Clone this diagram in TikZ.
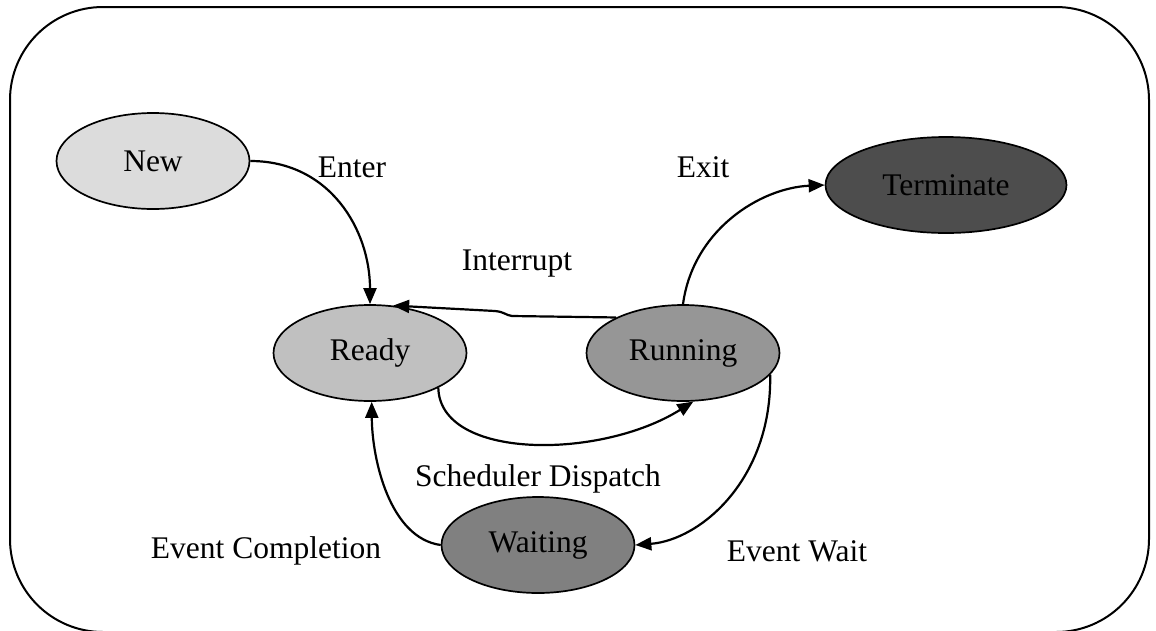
\documentclass[tikz,border=0pt]{standalone}
\usepackage{fontspec}
\setmainfont{Liberation Serif}
\usetikzlibrary{shapes.geometric,arrows.meta}
\begin{document}
\begin{tikzpicture}[x=1pt,y=-1pt,
  state/.style={ellipse,draw=black,line width=1.7pt,minimum width=193pt,minimum height=96pt,inner sep=0pt,font=\fontsize{31.5}{36}\selectfont},
  lbl/.style={font=\fontsize{31.5}{36}\selectfont,inner sep=0pt},
  conn/.style={line width=2.2pt,-{Triangle[length=16pt,width=13pt]}}]
\useasboundingbox (0,0) rectangle (1156,630);
\draw[line width=2pt,rounded corners=93pt] (10,7) rectangle (1149,632);
\node[state,fill={rgb,255:red,220;green,220;blue,220}] (new) at (153,161) {New};
\node[state,fill={rgb,255:red,192;green,192;blue,192}] (ready) at (370,353) {Ready};
\node[state,fill={rgb,255:red,150;green,150;blue,150}] (running) at (683,353) {Running};
\node[state,fill={rgb,255:red,128;green,128;blue,128}] (waiting) at (538,545) {\raisebox{4pt}{Waiting}};
\node[state,fill={rgb,255:red,77;green,77;blue,77},minimum width=241pt] (term) at (946,185) {Terminate};
\node[lbl] (lenter) at (352,167) {Enter};
\node[lbl] (lexit) at (703,167) {Exit};
\node[lbl] (lint) at (517,264) {Interrupt};
\node[lbl] (lsched) at (538,479) {Scheduler Dispatch};
\node[lbl] (lcomp) at (266,551) {Event Completion};
\node[lbl] (lwait) at (797,551) {Event Wait};
\draw[conn] (new.east) .. controls (330,161) and (370,230) .. (ready.north);
\draw[conn] (running.152) -- (512,316) .. controls (505,315) and (505,312) .. (495,311) -- (ready.64);
\draw[conn] (ready.-27) .. controls (440,460) and (600,460) .. (running.-78);
\draw[conn] (running.north) .. controls (693,230) and (760,188) .. (term.west);
\draw[conn] (running.-14) .. controls (772,480) and (700,540) .. (waiting.east);
\draw[conn] (waiting.west) .. controls (390,538) and (372,460) .. (ready.-88);
\end{tikzpicture}
\end{document}
